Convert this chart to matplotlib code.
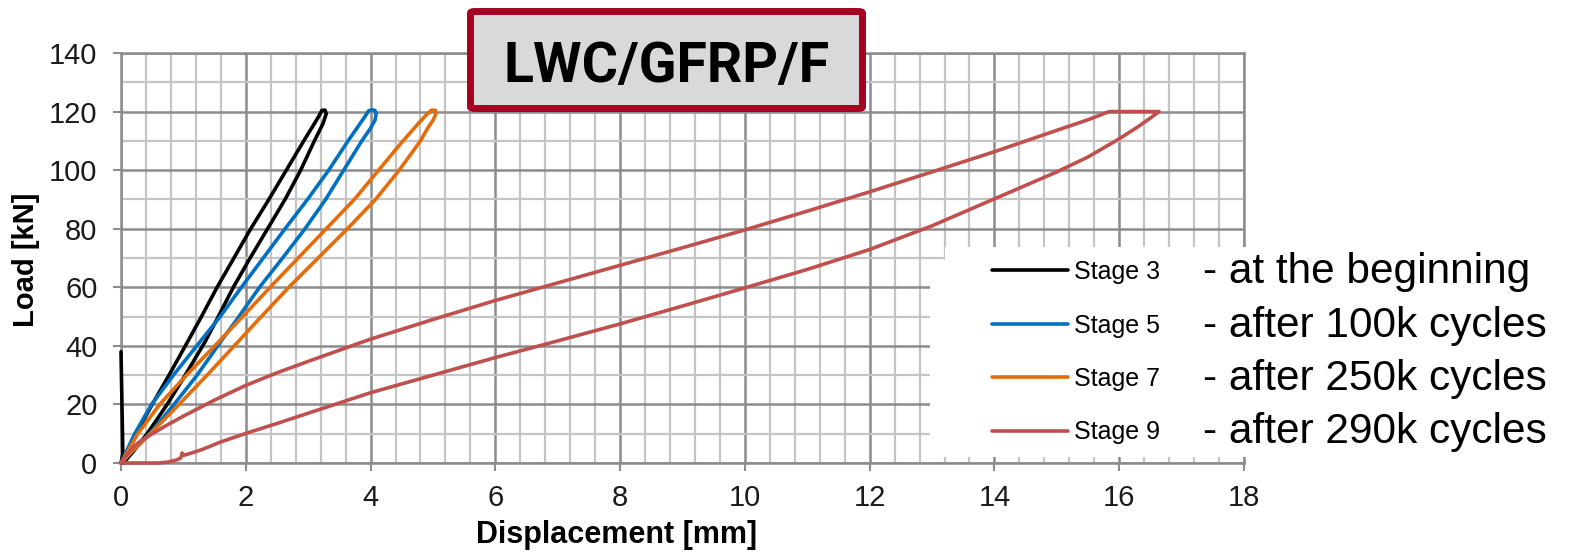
import matplotlib
matplotlib.use("Agg")
import matplotlib.pyplot as plt
from matplotlib.patches import Rectangle, FancyBboxPatch
import numpy as np

# ---- load-displacement loops (x: displacement [mm], y: load [kN]) ----
# Stage 3: small spike at the start, loading branch, tip, unloading branch
stage3_disp = [0.0, 0.03, 0.0,
               0.10, 0.24, 0.50, 0.77, 1.07, 1.29, 1.54, 1.81, 2.08, 2.37, 2.65, 2.93, 3.16,
               3.22, 3.27, 3.29, 3.24, 3.10, 2.88, 2.63, 2.35, 2.07, 1.80, 1.56, 1.35, 1.03,
               0.74, 0.42, 0.20, 0.04]
stage3_load = [38, 3, 0,
               4, 10, 20, 30, 41.5, 50, 60, 70, 80, 90, 100, 110, 118,
               120.4, 120.5, 119.3, 116, 110, 100, 90, 80, 70, 60, 50, 41.5, 30,
               20, 10, 4, 0]

stage5_disp = [0.0, 0.22, 0.49, 0.84, 1.27, 1.59, 1.93, 2.28, 2.63, 2.99, 3.33, 3.64, 3.90,
               3.97, 4.02, 4.07, 4.09, 4.07, 3.99, 3.86, 3.57, 3.28, 2.95, 2.59, 2.22, 1.89,
               1.60, 1.22, 0.85, 0.46, 0.18, 0.0]
stage5_load = [0, 10, 20, 30, 41.5, 50, 60, 70, 80, 90, 100, 110, 118,
               120.3, 120.6, 120.4, 119.3, 117, 114, 110, 100, 90, 80, 70, 60, 50,
               41.5, 30, 20, 10, 4, 0]

stage7_disp = [0.0, 0.27, 0.62, 1.05, 1.57, 1.95, 2.39, 2.84, 3.29, 3.74, 4.13, 4.52, 4.77,
               4.90, 4.98, 5.04, 5.05, 5.00, 4.92, 4.80, 4.46, 4.08, 3.63, 3.16, 2.69, 2.25,
               1.88, 1.38, 0.93, 0.47, 0.18, 0.0]
stage7_load = [0, 10, 20, 30, 41.5, 50, 60, 70, 80, 90, 100, 110, 116,
               119, 120.5, 120.4, 119.3, 117, 114.5, 110, 100, 90, 80, 70, 60, 50,
               41.5, 30, 20, 10, 4, 0]

stage9_disp = [0.0, 0.05, 0.10, 0.20, 0.30, 0.45, 0.70, 1.0, 1.5, 2.0, 2.5, 3.0, 4.0, 5.0,
               6.0, 7.0, 8.0, 9.0, 10.0, 11.0, 12.0, 13.0, 14.0, 15.0, 15.5, 15.84,
               16.64, 16.5, 16.3, 16.0, 15.5, 15.0, 14.5, 14.0, 13.0, 12.0, 11.0, 10.0,
               9.0, 8.0, 7.0, 6.0, 5.0, 4.0, 3.5, 3.0, 2.5, 2.0, 1.6, 1.3, 1.1, 1.0,
               0.98, 0.96, 0.90, 0.75, 0.60, 0.30, 0.0]
stage9_load = [0, 1.5, 3.0, 5.5, 7.3, 9.3, 12.5, 16.0, 21.5, 26.5, 30.8, 34.7, 42.3, 49.0,
               55.5, 61.5, 67.5, 73.5, 79.6, 86.0, 92.6, 99.4, 106.3, 113.6, 117.2, 120,
               120, 117.8, 114.8, 110.7, 104.5, 99.4, 94.8, 90.2, 81.0, 72.9, 66.1, 59.8,
               53.6, 47.5, 41.7, 36.0, 30.0, 24.0, 20.5, 17.0, 13.5, 10.1, 7.2, 4.6, 3.2, 2.6,
               3.4, 1.8, 1.1, 0.3, 0.0, 0.0, 0.0]

stage_labels = ["Stage 3", "Stage 5", "Stage 7", "Stage 9"]
stage_notes = ["- at the beginning", "- after 100k cycles",
               "- after 250k cycles", "- after 290k cycles"]
stage_colors = ["#000000", "#0070C0", "#E46C0A", "#C0504D"]

x_ticks = np.arange(0, 19, 2)
y_ticks = np.arange(0, 141, 20)

SANS = "Liberation Sans"
plt.rcParams["font.family"] = [SANS, "DejaVu Sans"]

W, H = 1572, 553
fig = plt.figure(figsize=(W / 100, H / 100), dpi=100)
ax = fig.add_axes([121 / W, 1 - 463 / H, (1244 - 121) / W, (463 - 53) / H])

series = [(stage3_disp, stage3_load), (stage5_disp, stage5_load),
          (stage7_disp, stage7_load), (stage9_disp, stage9_load)]
lines = []
for (xs, ys), col, lab in zip(series, stage_colors, stage_labels):
    ln, = ax.plot(xs, ys, color=col, lw=2.6, label=lab, clip_on=False,
                  solid_joinstyle="round", solid_capstyle="round", zorder=3)
    lines.append(ln)

ax.set_xlim(0, 18)
ax.set_ylim(0, 140)
ax.set_xticks(x_ticks)
ax.set_yticks(y_ticks)
ax.set_xticks(np.arange(0, 18.01, 0.4), minor=True)
ax.set_yticks(np.arange(0, 141, 10), minor=True)
ax.set_axisbelow(True)
ax.grid(which="minor", color="#C4C4C4", lw=1.6)
ax.grid(which="major", color="#8C8C8C", lw=1.8)
ax.tick_params(which="major", direction="out", length=6, width=1.5,
               color="#8C8C8C", labelsize=21, labelcolor="#1A1A1A")
ax.tick_params(axis="y", pad=11)
ax.tick_params(axis="x", pad=9)
ax.tick_params(which="minor", length=0)
for s in ax.spines.values():
    s.set_color("#8C8C8C")
    s.set_linewidth(1.8)

fig.text(617 / W, 1 - 535 / H, "Displacement [mm]", ha="center", va="center",
         fontsize=22, fontweight="bold")
fig.text(26 / W, 1 - 260 / H, "Load [kN]", ha="center", va="center",
         rotation=90, fontsize=21, fontweight="bold")

# white panels behind the legend and its notes
for x0, y0 in [(945, 247), (930, 260)]:
    fig.add_artist(Rectangle((x0 / W, 1 - 457 / H), 1 - x0 / W, (457 - y0) / H,
                             transform=fig.transFigure, facecolor="white",
                             edgecolor="none", zorder=2))

leg = fig.legend(handles=lines, labels=stage_labels, loc="upper left",
                 bbox_to_anchor=(992 / W, 1 - 260 / H), frameon=False,
                 borderpad=0, borderaxespad=0, handlelength=3.05,
                 handletextpad=0.24, labelspacing=1.18,
                 prop={"family": SANS, "size": 18})
leg.set_zorder(4)

fig.canvas.draw()
renderer = fig.canvas.get_renderer()
inv = fig.transFigure.inverted()
for txt, note in zip(leg.get_texts(), stage_notes):
    bb = txt.get_window_extent(renderer)
    yc = inv.transform((0, (bb.y0 + bb.y1) / 2))[1]
    fig.text(1203 / W, yc, note, ha="left", va="center", fontsize=30.5, zorder=5)

# title box
fig.add_artist(FancyBboxPatch((470.5 / W, 1 - 108.5 / H), (862.5 - 470.5) / W,
                              (108.5 - 11.5) / H,
                              boxstyle="round,pad=0,rounding_size=0.003",
                              transform=fig.transFigure, facecolor="#D9D9D9",
                              edgecolor="#A50021", lw=5, zorder=6))
fig.text(667 / W, 1 - 82 / H, "LWC/GFRP/F", ha="center", va="baseline",
         fontsize=40, fontweight="bold", family=["Roboto", "DejaVu Sans"], zorder=7)

fig.savefig("out.png", dpi=100)
